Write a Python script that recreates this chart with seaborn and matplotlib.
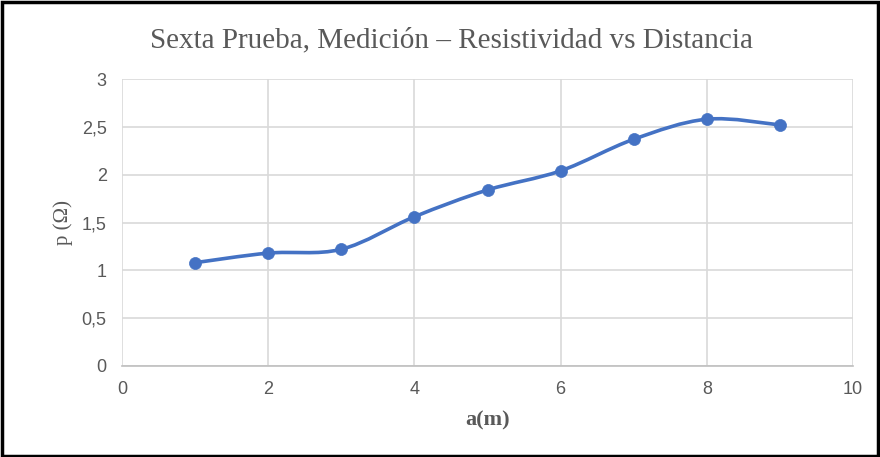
import numpy as np
import pandas as pd
import matplotlib
matplotlib.use("Agg")
import matplotlib.pyplot as plt
from matplotlib.path import Path
from matplotlib.patches import PathPatch, Rectangle
from matplotlib.ticker import FuncFormatter, MultipleLocator
import seaborn as sns

# data
distance_m = [1, 2, 3, 4, 5, 6, 7, 8, 9]
resistivity = [1.08, 1.18, 1.22, 1.56, 1.84, 2.04, 2.37, 2.58, 2.52]

TITLE = "Sexta Prueba, Medición – Resistividad vs Distancia"
XLABEL = "a(m)"
YLABEL = "p (Ω)"
BLUE = "#4472C4"
GREY_TXT = "#595959"
GRID = "#d9d9d9"

df = pd.DataFrame({"a": distance_m, "rho": resistivity})

sns.set_theme(style="white")
plt.rcParams["font.family"] = ["Liberation Sans", "DejaVu Sans"]

fig = plt.figure(figsize=(8.8, 4.57), dpi=100)
ax = fig.add_axes([122 / 880, 1 - 366 / 457, (853 - 122) / 880, (366 - 79) / 457])

# Excel style smoothed line: cubic bezier segments through the points
pts = df[["a", "rho"]].to_numpy(dtype=float)
verts = [tuple(pts[0])]
codes = [Path.MOVETO]
n = len(pts)
for i in range(n - 1):
    p0 = pts[max(i - 1, 0)]
    p1 = pts[i]
    p2 = pts[i + 1]
    p3 = pts[min(i + 2, n - 1)]
    c1 = p1 + (p2 - p0) / 6.0
    c2 = p2 - (p3 - p1) / 6.0
    verts += [tuple(c1), tuple(c2), tuple(p2)]
    codes += [Path.CURVE4] * 3
ax.add_patch(PathPatch(Path(verts, codes), fill=False, edgecolor=BLUE, lw=2.6,
                       capstyle="round", joinstyle="round", zorder=3))

sns.scatterplot(data=df, x="a", y="rho", ax=ax, color=BLUE, s=75,
                edgecolor=BLUE, linewidth=0.5, zorder=4, legend=False)

ax.set_xlim(0, 10)
ax.set_ylim(0, 3)
ax.xaxis.set_major_locator(MultipleLocator(2))
ax.yaxis.set_major_locator(MultipleLocator(0.5))
comma = FuncFormatter(lambda v, p: f"{v:g}".replace(".", ","))
ax.xaxis.set_major_formatter(comma)
ax.yaxis.set_major_formatter(comma)

ax.grid(True, color=GRID, lw=1.2)
ax.set_axisbelow(True)
for side in ["top", "right", "left"]:
    ax.spines[side].set_visible(False)
ax.spines["bottom"].set_color("#bfbfbf")
ax.spines["bottom"].set_linewidth(1.2)
ax.tick_params(axis="both", length=0, labelsize=13, labelcolor=GREY_TXT, pad=11)

ax.set_xlabel(XLABEL, fontsize=16, fontweight="bold", family="Liberation Serif",
              color=GREY_TXT, labelpad=9)
ax.set_ylabel(YLABEL, fontsize=15, family="Liberation Serif", color=GREY_TXT, labelpad=6)
fig.text(0.5 + 11 / 880, 1 - 40 / 457, TITLE, ha="center", va="center", fontsize=21,
         family="Liberation Serif", color=GREY_TXT)

# frame around the whole picture
fig.patches.append(Rectangle((0.002, 0.002), 0.996, 0.994, transform=fig.transFigure,
                             fill=False, edgecolor="black", lw=2.5))

fig.savefig("out.png", dpi=100, facecolor="white")
plt.close(fig)
